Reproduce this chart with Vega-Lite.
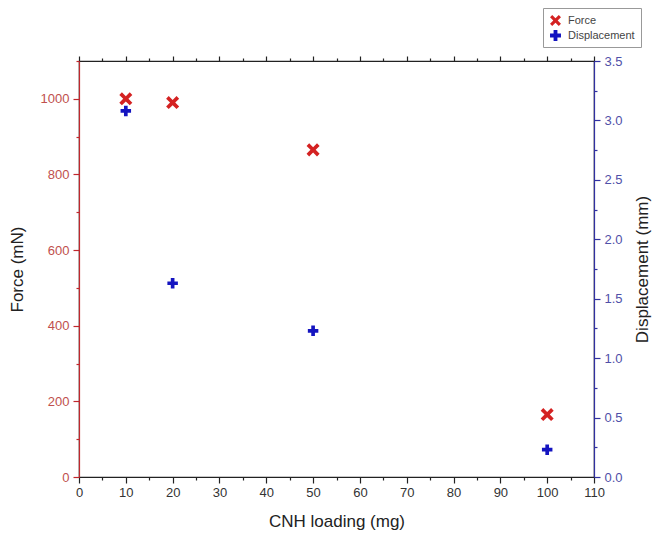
{
  "$schema": "https://vega.github.io/schema/vega-lite/v6.json",
  "width": 515,
  "height": 416,
  "autosize": {"type": "none"},
  "padding": {"left": 79, "top": 61, "right": 66, "bottom": 71},
  "background": "white",
  "config": {
    "view": {"stroke": "#222222", "strokeWidth": 1.2},
    "font": "Liberation Sans",
    "axis": {"grid": false, "labelFont": "Liberation Sans", "titleFont": "Liberation Sans", "labelFontSize": 13, "titleFontSize": 17, "titleFontWeight": "normal", "domainWidth": 1.2, "tickWidth": 1.2},
    "legend": {"labelFont": "Liberation Sans"}
  },
  "data": {
    "values": [
      {"loading": 10, "series": "Force", "value": 1000},
      {"loading": 20, "series": "Force", "value": 990},
      {"loading": 50, "series": "Force", "value": 865},
      {"loading": 100, "series": "Force", "value": 165},
      {"loading": 10, "series": "Displacement", "value": 3.08},
      {"loading": 20, "series": "Displacement", "value": 1.63},
      {"loading": 50, "series": "Displacement", "value": 1.23},
      {"loading": 100, "series": "Displacement", "value": 0.23}
    ]
  },
  "layer": [
    {
      "transform": [{"filter": "datum.series === 'Force'"}],
      "mark": {"type": "point", "filled": true, "size": 170, "opacity": 1},
      "encoding": {
        "x": {
          "field": "loading", "type": "quantitative",
          "scale": {"domain": [0, 110], "nice": false, "zero": false},
          "axis": {
            "title": "CNH loading (mg)", "orient": "bottom",
            "values": [0,5,10,15,20,25,30,35,40,45,50,55,60,65,70,75,80,85,90,95,100,105,110],
            "labelExpr": "datum.value % 10 === 0 ? datum.label : ''",
            "tickSize": {"condition": {"test": "datum.value % 10 === 0", "value": 6}, "value": 3},
            "labelPadding": 3,
            "titlePadding": 14,
            "domainColor": "#222222", "tickColor": "#222222", "labelColor": "#333333", "titleColor": "#222222",
            "labelFlush": false
          }
        },
        "y": {
          "field": "value", "type": "quantitative",
          "scale": {"domain": [0, 1100], "nice": false},
          "axis": {
            "title": "Force (mN)", "orient": "left",
            "values": [0,100,200,300,400,500,600,700,800,900,1000,1100],
            "labelExpr": "datum.value % 200 === 0 ? datum.label : ''",
            "tickSize": {"condition": {"test": "datum.value % 200 === 0", "value": 6}, "value": 3},
            "format": "d",
            "domainColor": "#c0282d", "tickColor": "#c0282d", "labelColor": "#c0504d", "titleColor": "#222222",
            "labelPadding": 4, "titlePadding": 14
          }
        },
        "color": {"field": "series", "type": "nominal", "scale": {"domain": ["Force", "Displacement"], "range": ["#d42222", "#1414c0"]}, "legend": {"title": null, "orient": "none", "legendX": 464, "legendY": -53, "strokeColor": "#999999", "padding": 6, "labelFontSize": 11, "labelColor": "#444444", "symbolSize": 120, "rowPadding": 3, "fillColor": "white", "labelOffset": 6}},
        "shape": {"field": "series", "type": "nominal", "scale": {"domain": ["Force", "Displacement"], "range": ["M-1,-0.6L-0.6,-1L0,-0.4L0.6,-1L1,-0.6L0.4,0L1,0.6L0.6,1L0,0.4L-0.6,1L-1,0.6L-0.4,0Z", "M-0.35,-1H0.35V-0.35H1V0.35H0.35V1H-0.35V0.35H-1V-0.35H-0.35Z"]}, "legend": {"title": null, "orient": "none", "legendX": 464, "legendY": -53}}
      }
    },
    {
      "transform": [{"filter": "datum.series === 'Displacement'"}],
      "mark": {"type": "point", "filled": true, "size": 110, "opacity": 1},
      "encoding": {
        "x": {
          "field": "loading", "type": "quantitative",
          "scale": {"domain": [0, 110], "nice": false, "zero": false},
          "axis": {
            "title": null, "orient": "top", "labels": false,
            "values": [0,5,10,15,20,25,30,35,40,45,50,55,60,65,70,75,80,85,90,95,100,105,110],
            "tickSize": {"condition": {"test": "datum.value % 10 === 0", "value": 5}, "value": 3},
            "domainColor": "#222222", "tickColor": "#222222"
          }
        },
        "y": {
          "field": "value", "type": "quantitative",
          "scale": {"domain": [0, 3.5], "nice": false},
          "axis": {
            "title": "Displacement (mm)", "orient": "right", "titleAngle": -90, "titleBaseline": "top",
            "values": [0,0.25,0.5,0.75,1,1.25,1.5,1.75,2,2.25,2.5,2.75,3,3.25,3.5],
            "labelExpr": "datum.value % 0.5 === 0 ? format(datum.value, '.1f') : ''",
            "tickSize": {"condition": {"test": "datum.value % 0.5 === 0", "value": 6}, "value": 3},
            "domainColor": "#3030a0", "tickColor": "#3030a0", "labelColor": "#5050a8", "titleColor": "#222222",
            "labelPadding": 4, "titlePadding": 12
          }
        },
        "color": {"field": "series", "type": "nominal"},
        "shape": {"field": "series", "type": "nominal"}
      }
    }
  ],
  "resolve": {"scale": {"x": "independent", "y": "independent"}, "axis": {"x": "independent"}}
}
